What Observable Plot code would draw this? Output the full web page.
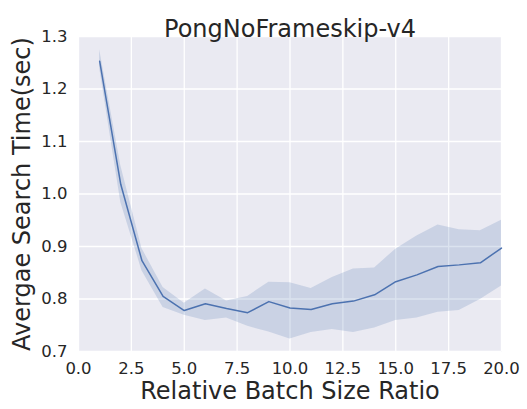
<!DOCTYPE html>
<html>
<head>
<meta charset="utf-8">
<script src="https://cdn.jsdelivr.net/npm/d3@7"></script>
<script src="https://cdn.jsdelivr.net/npm/@observablehq/plot@0.6"></script>
<style>
  html, body { margin: 0; padding: 0; background: #fff; }
  svg { display: block; }
</style>
</head>
<body>
<div id="chart"></div>
<script>
const title = "PongNoFrameskip-v4";
const xLabel = "Relative Batch Size Ratio";
const yLabel = "Avergae Search Time(sec)";

const ratios = [1, 2, 3, 4, 5, 6, 7, 8, 9, 10, 11, 12, 13, 14, 15, 16, 17, 18, 19, 20];
const meanTime = [1.253, 1.018, 0.873, 0.805, 0.778, 0.791, 0.782, 0.774, 0.795, 0.783, 0.780, 0.791, 0.796, 0.808, 0.833, 0.846, 0.862, 0.865, 0.869, 0.897];
const lowTime  = [1.240, 0.984, 0.854, 0.784, 0.769, 0.759, 0.764, 0.748, 0.737, 0.724, 0.736, 0.742, 0.736, 0.745, 0.759, 0.764, 0.775, 0.778, 0.799, 0.825];
const highTime = [1.275, 1.054, 0.896, 0.822, 0.792, 0.819, 0.796, 0.805, 0.832, 0.831, 0.820, 0.841, 0.857, 0.859, 0.895, 0.920, 0.941, 0.932, 0.930, 0.950];

const xTicks = [0, 2.5, 5, 7.5, 10, 12.5, 15, 17.5, 20];
const yTicks = [0.7, 0.8, 0.9, 1.0, 1.1, 1.2, 1.3];

const rows = ratios.map((r, i) => ({x: r, y: meanTime[i], lo: lowTime[i], hi: highTime[i]}));

const ink = "#262626";
const blue = "#4C72B0";

const plot = Plot.plot({
  width: 527,
  height: 409,
  marginLeft: 78,
  marginRight: 26,
  marginTop: 36,
  marginBottom: 58,
  style: {fontFamily: "DejaVu Sans", color: ink, background: "#ffffff"},
  x: {domain: [0, 20], ticks: xTicks, tickFormat: d3.format(".1f"), label: null},
  y: {domain: [0.7, 1.3], ticks: yTicks, tickFormat: d3.format(".1f"), label: null},
  marks: [
    Plot.frame({fill: "#EAEAF2", stroke: null}),
    Plot.gridX(xTicks, {stroke: "#ffffff", strokeOpacity: 1, strokeWidth: 1.3}),
    Plot.gridY(yTicks, {stroke: "#ffffff", strokeOpacity: 1, strokeWidth: 1.3}),
    Plot.areaY(rows, {x: "x", y1: "lo", y2: "hi", fill: blue, fillOpacity: 0.2}),
    Plot.lineY(rows, {x: "x", y: "y", stroke: blue, strokeWidth: 1.5}),
    Plot.axisX(xTicks, {tickSize: 0, tickPadding: 11, fontSize: 16.5, fill: ink, tickFormat: d3.format(".1f")}),
    Plot.axisY(yTicks, {tickSize: 0, tickPadding: 11, fontSize: 16.5, fill: ink, tickFormat: d3.format(".1f")}),
    Plot.text([title], {frameAnchor: "top", dy: -17, fontSize: 24, fill: ink}),
    Plot.text([xLabel], {frameAnchor: "bottom", dy: 47, fontSize: 24, fill: ink}),
    Plot.text([yLabel], {frameAnchor: "left", textAnchor: "middle", dx: -56, rotate: -90, fontSize: 24, fill: ink})
  ]
});

document.getElementById("chart").appendChild(plot);
</script>
</body>
</html>
